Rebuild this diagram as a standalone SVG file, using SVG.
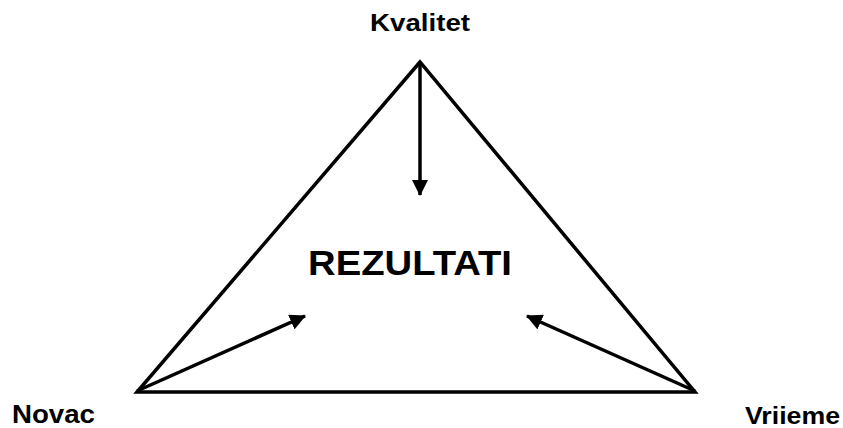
<svg xmlns="http://www.w3.org/2000/svg" width="843" height="428" viewBox="0 0 843 428">
<style>
.lbl{font-family:"Liberation Sans",Arial,sans-serif;font-weight:bold;fill:#000}
.edge{stroke:#000;stroke-width:3.5;fill:none}
</style>
<defs>
<marker id="ah" markerUnits="userSpaceOnUse" markerWidth="16" markerHeight="16" viewBox="0 0 16 16" refX="15" refY="8" orient="auto">
<path d="M0,0 L16,8 L0,16 Z" fill="#000"/>
</marker>
</defs>
<rect width="843" height="428" fill="#fff"/>
<g id="triangle">
<polygon points="420,62 137,392 695,392" fill="none" stroke="#000" stroke-width="3.5" stroke-linejoin="miter"/>
</g>
<g id="connectors">
<line class="edge" x1="420" y1="62" x2="420" y2="195" marker-end="url(#ah)"/>
<line class="edge" x1="137" y1="391" x2="305" y2="316" marker-end="url(#ah)"/>
<line class="edge" x1="695" y1="391" x2="527" y2="316" marker-end="url(#ah)"/>
</g>
<g id="kvalitet"><text class="lbl" x="370" y="31" font-size="24" textLength="100" lengthAdjust="spacingAndGlyphs">Kvalitet</text></g>
<g id="rezultati"><text class="lbl" x="308" y="275" font-size="35" textLength="204" lengthAdjust="spacingAndGlyphs">REZULTATI</text></g>
<g id="novac"><text class="lbl" x="12" y="423" font-size="25" textLength="83" lengthAdjust="spacingAndGlyphs">Novac</text></g>
<g id="vriieme"><text class="lbl" x="745" y="424" font-size="24" textLength="95" lengthAdjust="spacingAndGlyphs">Vriieme</text></g>
</svg>
